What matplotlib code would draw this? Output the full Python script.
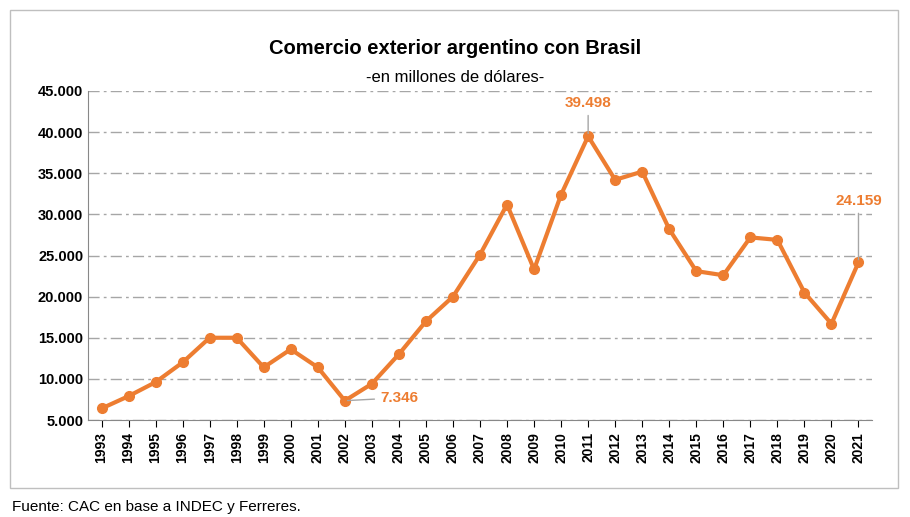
import matplotlib
matplotlib.use("Agg")
import matplotlib.pyplot as plt
from matplotlib.patches import Rectangle
from matplotlib.ticker import FuncFormatter

plt.rcParams['font.family'] = ['Liberation Sans', 'DejaVu Sans']

years = list(range(1993, 2022))
values = [6400, 7900, 9600, 12000, 15000, 15000, 11400, 13600, 11400, 7346,
          9400, 13000, 17000, 20000, 25100, 31200, 23300, 32400, 39498, 34200,
          35200, 28200, 23100, 22600, 27200, 26900, 20500, 16700, 24159]
orange = '#ED7D31'

fig = plt.figure(figsize=(9.10, 5.17), dpi=100)
ax = fig.add_axes([88 / 910, 1 - 420 / 517, (872 - 88) / 910, (420 - 91) / 517])

ax.plot(years, values, color=orange, lw=3, marker='o', ms=7, zorder=3)
ax.set_xlim(1992.5, 2021.5)
ax.set_ylim(5000, 45000)
ax.set_yticks(range(5000, 45001, 5000))
ax.yaxis.set_major_formatter(FuncFormatter(lambda v, p: f'{int(v):,}'.replace(',', '.')))
ax.set_xticks(years)
ax.set_xticklabels([str(y) for y in years], rotation=90, fontweight='bold', fontsize=10)
for t in ax.get_yticklabels():
    t.set_fontweight('bold')
    t.set_fontsize(10.5)
ax.grid(axis='y', color='#A6A6A6', ls=(0, (8, 3, 2, 3)), lw=1)
ax.tick_params(axis='x', length=5, direction='out')
ax.tick_params(axis='y', length=0)
for s in ['top', 'right']:
    ax.spines[s].set_visible(False)
ax.spines['left'].set_color('#888888')
ax.spines['bottom'].set_color('#888888')

lab = dict(color=orange, fontweight='bold', fontsize=11)
ax.annotate('39.498', xy=(2011, 39498), xytext=(2011, 42700), ha='center', va='bottom',
            arrowprops=dict(arrowstyle='-', color='#A6A6A6'), **lab)
ax.annotate('7.346', xy=(2002, 7346), xytext=(2003.3, 7700), ha='left', va='center',
            arrowprops=dict(arrowstyle='-', color='#A6A6A6'), **lab)
ax.annotate('24.159', xy=(2021, 24159), xytext=(2021, 30800), ha='center', va='bottom',
            arrowprops=dict(arrowstyle='-', color='#A6A6A6'), **lab)

fig.text(0.5, 1 - 48 / 517, 'Comercio exterior argentino con Brasil', ha='center', va='center',
         fontsize=14.5, fontweight='bold')
fig.text(0.5, 1 - 77 / 517, '-en millones de dólares-', ha='center', va='center', fontsize=12)
fig.text(12 / 910, 1 - 507 / 517, 'Fuente: CAC en base a INDEC y Ferreres.', ha='left', va='center',
         fontsize=11)
fig.patches.append(Rectangle((10 / 910, 1 - 488 / 517), 888 / 910, 478 / 517,
                             transform=fig.transFigure, fill=False, ec='#BFBFBF', lw=1))

fig.savefig('out.png', dpi=100)
